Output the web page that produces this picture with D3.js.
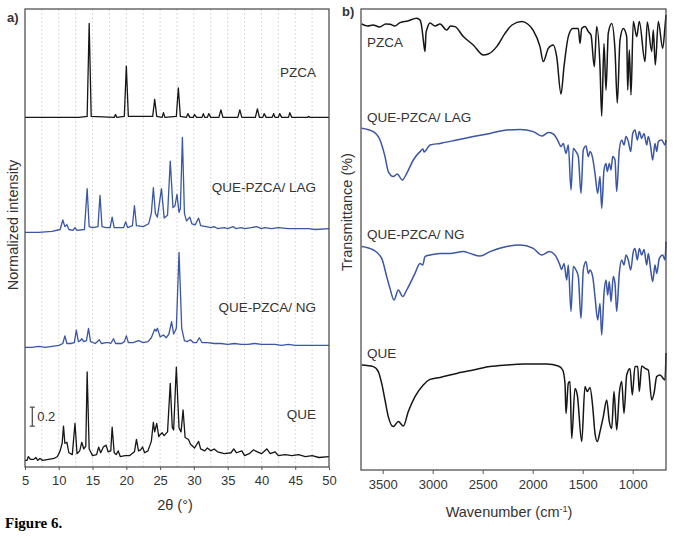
<!DOCTYPE html>
<html>
<head>
<meta charset="utf-8">
<title>Figure 6</title>
<style>
  body { margin: 0; background: #fff; }
  svg text { font-family: Arial, "Liberation Sans", sans-serif; fill: #333; }
  .axis text { font-size: 13px; fill: #333; }
  .axis line { stroke: #555; }
  .axis path { display: none; }
</style>
<script src="https://cdnjs.cloudflare.com/ajax/libs/d3/7.8.5/d3.min.js"></script>
</head>
<body>
<svg id="fig" width="681" height="539"></svg>
<script>
// ---- panel a) XRD, 2theta vs normalized intensity (each trace relative to its own baseline)
const xrdTicks = [5, 10, 15, 20, 25, 30, 35, 40, 45, 50];
const xrdNames = ["QUE", "QUE-PZCA/ NG", "QUE-PZCA/ LAG", "PZCA"];
const xrdOffsets = [0.07, 1.26, 2.47, 3.68];

const xrdQUE = [[5,0],[5.3,0],[5.5,0.04],[5.8,0.01],[6.3,0.01],[6.6,0.03],[6.9,0],[7.2,0.02],[7.6,0],[8.5,0.01],[9.3,0.02],[9.8,0.04],
  [10.2,0.1],[10.5,0.18],[10.7,0.36],[10.9,0.18],[11.2,0.19],[11.5,0.08],[12.0,0.06],[12.4,0.39],[12.7,0.07],[13.1,0.1],[13.4,0.19],
  [13.7,0.12],[14.0,0.15],[14.2,0.93],[14.5,0.12],[15.0,0.05],[15.6,0.06],[15.9,0.14],[16.2,0.08],[16.6,0.14],[17.0,0.16],[17.3,0.09],
  [17.7,0.1],[17.9,0.35],[18.2,0.08],[18.5,0.06],[18.8,0.1],[19.1,0.04],[19.8,0.05],[20.5,0.05],[21.2,0.09],[21.5,0.22],[21.8,0.1],
  [22.1,0.11],[22.4,0.14],[22.7,0.08],[23.2,0.1],[23.7,0.2],[24.0,0.40],[24.2,0.3],[24.5,0.39],[24.8,0.25],[25.0,0.27],[25.3,0.29],
  [25.6,0.26],[26.1,0.3],[26.5,0.81],[26.8,0.35],[27.0,0.32],[27.4,0.98],[27.8,0.34],[28.1,0.3],[28.4,0.53],[28.7,0.24],[29.2,0.22],
  [29.5,0.17],[30.1,0.13],[30.7,0.2],[31.0,0.12],[31.6,0.1],[32.0,0.13],[32.5,0.1],[33.0,0.12],[33.5,0.09],[34.5,0.07],[35.5,0.08],
  [35.9,0.12],[36.3,0.08],[37.1,0.1],[37.5,0.05],[38.2,0.07],[38.8,0.11],[39.4,0.09],[40.0,0.07],[40.8,0.12],[41.3,0.07],[42.0,0.09],
  [42.5,0.05],[43.5,0.06],[44.5,0.05],[45.5,0.06],[46.5,0.04],[47.5,0.05],[48.5,0.03],[50,0.04]];

const xrdNG = [[5,0],[6,0],[7,0.01],[8,0],[9,0.01],[10,0.02],[10.6,0.04],[10.9,0.12],[11.2,0.04],[11.8,0.04],[12.3,0.05],[12.6,0.18],
  [12.9,0.06],[13.2,0.07],[13.4,0.09],[13.7,0.06],[14.1,0.07],[14.4,0.20],[14.7,0.06],[15.4,0.04],[16.0,0.08],[16.3,0.04],[17.0,0.05],
  [17.4,0.05],[17.7,0.04],[18.1,0.09],[18.4,0.04],[19.3,0.04],[19.7,0.06],[20.0,0.12],[20.3,0.05],[21.0,0.05],[21.8,0.07],[22.5,0.05],
  [23.2,0.06],[23.7,0.10],[24.2,0.19],[24.4,0.17],[24.6,0.20],[25.0,0.11],[25.5,0.13],[25.9,0.10],[26.3,0.14],[26.7,0.27],[27.0,0.14],
  [27.4,0.2],[27.8,1.0],[28.2,0.2],[28.6,0.07],[29.0,0.06],[29.5,0.08],[29.9,0.05],[30.4,0.05],[30.8,0.10],[31.2,0.05],[32,0.05],
  [33,0.04],[34,0.04],[35,0.03],[36,0.04],[37,0.03],[38,0.03],[39,0.04],[40,0.03],[41,0.03],[42,0.03],[43,0.02],[44,0.03],[45,0.02],
  [47,0.02],[50,0.02]];

const xrdLAG = [[5,0],[7,0],[9,0.01],[10.2,0.03],[10.6,0.13],[10.9,0.06],[11.2,0.08],[11.5,0.03],[12.1,0.02],[12.4,0.05],[12.7,0.02],
  [13.8,0.03],[14.2,0.46],[14.5,0.06],[15,0.05],[15.8,0.06],[16.1,0.39],[16.4,0.06],[17.0,0.05],[17.6,0.05],[17.9,0.16],[18.2,0.05],
  [19.0,0.05],[19.6,0.05],[19.9,0.11],[20.2,0.05],[20.9,0.07],[21.2,0.28],[21.5,0.07],[22.5,0.06],[23.3,0.09],[23.7,0.2],[24.0,0.47],
  [24.3,0.2],[24.6,0.16],[25.2,0.46],[25.6,0.15],[26.1,0.18],[26.5,0.75],[26.9,0.26],[27.2,0.28],[27.5,0.40],[27.8,0.21],[28.0,0.25],
  [28.3,1.0],[28.6,0.2],[28.9,0.12],[29.4,0.16],[29.7,0.09],[30.2,0.08],[30.7,0.15],[31.0,0.07],[31.8,0.06],[32.5,0.05],[33,0.06],
  [33.5,0.04],[34.5,0.05],[35,0.04],[35.8,0.06],[36.2,0.04],[37,0.05],[37.5,0.04],[38.5,0.05],[39.3,0.06],[40,0.04],[40.5,0.05],
  [41.5,0.04],[42.5,0.05],[44,0.04],[45.5,0.04],[47,0.04],[48,0.03],[50,0.04]];

const xrdPZCA = [[5,0],[13,0],[14.2,0.01],[14.5,0.99],[14.8,0.01],[18.2,0],[18.4,0.03],[18.6,0],[19.7,0.01],[20.0,0.54],[20.3,0.01],
  [23.9,0.01],[24.2,0.19],[24.5,0.01],[25.3,0],[25.5,0.05],[25.7,0],[27.4,0.01],[27.7,0.31],[28.0,0.01],[28.9,0],[29.1,0.04],[29.4,0],
  [29.9,0],[30.1,0.03],[30.4,0],[31.2,0],[31.4,0.04],[31.6,0],[32.0,0],[32.2,0.04],[32.5,0],[33.7,0],[34.0,0.08],[34.3,0],[36.5,0],
  [36.8,0.08],[37.1,0],[39.1,0],[39.4,0.09],[39.7,0],[40.2,0],[40.4,0.04],[40.7,0],[41.6,0],[41.8,0.04],[42.0,0],[42.5,0],[42.7,0.04],
  [43.0,0],[44.0,0],[44.2,0.05],[44.5,0],[46.8,0],[47.0,0.01],[47.2,0],[50,0]];

// ---- panel b) FTIR, wavenumber vs stacked transmittance (arbitrary units)
const ftirTicks = [3500, 3000, 2500, 2000, 1500, 1000];
const ftirNames = ["PZCA", "QUE-PZCA/ LAG", "QUE-PZCA/ NG", "QUE"];

const ftirPZCA = [[3710,223],[3650,222],[3597,222.5],[3530,221.5],[3470,223],[3427,222.9],[3380,222],[3327,223.7],[3250,224.5],
  [3160,225.9],[3127,225],[3110,221.7],[3094,215],[3077,209.2],[3067,218.5],[3054,221],[3027,223.5],[2977,222],[2927,223],[2860,220],
  [2820,222],[2777,221.7],[2694,216.7],[2594,212.5],[2494,207.5],[2444,208],[2360,211.7],[2277,218.3],[2207,222.5],[2110,224.2],
  [2050,223],[1997,220],[1927,211.7],[1894,204.2],[1844,210.8],[1794,212.5],[1760,206.7],[1717,188],[1687,201.7],[1644,216.7],
  [1600,220.8],[1544,220.8],[1527,213.3],[1510,220.8],[1477,221.7],[1444,219.2],[1417,217.5],[1384,201.7],[1360,221.7],[1327,201.7],
  [1310,177],[1287,213.3],[1267,190],[1244,218.5],[1210,223.3],[1177,210],[1154,183.5],[1127,215],[1094,220.8],[1060,216.7],
  [1050,190],[1034,210],[1017,187.5],[994,224.2],[960,216.7],[934,224.2],[877,204.2],[854,224],[810,209.2],[794,220],[774,202.5],
  [744,224.2],[700,210.8],[677,221.7],[667,227.5]];

const ftirLAG = [[3710,170.9],[3594,169.2],[3527,165],[3477,156.7],[3444,149.2],[3394,146.7],[3354,148],[3304,145],[3260,148.3],
  [3194,155],[3127,159.2],[3097,160.5],[3087,159],[3027,162.5],[2927,163.3],[2760,165],[2594,166.7],[2427,168.3],[2260,170],
  [2127,170.3],[1994,169.2],[1910,167],[1844,168.7],[1794,168],[1744,164.2],[1717,161.7],[1694,163.3],[1667,158.3],[1644,162.5],
  [1617,140],[1594,160.8],[1567,159.2],[1544,156.7],[1517,138.3],[1494,160],[1467,162],[1444,156.7],[1427,159.2],[1400,155.8],
  [1377,148.3],[1350,138.3],[1327,146.7],[1310,130.8],[1287,150],[1267,153.3],[1254,149.2],[1234,153.3],[1217,150],[1200,156.7],
  [1177,155],[1160,139.2],[1134,160],[1110,165],[1087,162.5],[1067,166.7],[1044,164.2],[1020,159.2],[1000,168.3],[977,170],
  [954,165],[934,169.2],[910,165.8],[887,168.3],[860,162.5],[844,166.7],[820,161.7],[800,155],[777,163.3],[760,159.2],[744,164.2],
  [710,165],[677,162.5],[667,165]];

const ftirNG = [[3710,111.7],[3594,110],[3510,105.8],[3460,96.7],[3427,90.8],[3387,85],[3344,90],[3300,86.7],[3260,90],[3177,98.3],
  [3127,103.3],[3100,102.5],[3077,106.7],[3027,107.5],[2927,108.3],[2827,108.3],[2694,109.2],[2627,108.3],[2527,107],[2427,109.2],
  [2260,111.7],[2127,112.5],[1994,110.8],[1910,107.5],[1834,109.2],[1777,107.5],[1734,103.3],[1710,100.3],[1687,103.3],[1660,95],
  [1644,102.5],[1617,79.2],[1594,101.7],[1567,100],[1544,96.7],[1517,75.8],[1494,100],[1467,104.2],[1444,98.3],[1427,100],
  [1400,96.7],[1377,86.7],[1350,75],[1327,83.3],[1310,67.5],[1287,88.3],[1267,95],[1250,87.5],[1234,94.2],[1217,84.2],[1194,96.7],
  [1177,93.3],[1160,79.2],[1134,98.3],[1110,105],[1087,102.5],[1067,107.5],[1044,105],[1020,100],[994,109.2],[977,110.8],[954,105],
  [934,110.8],[910,107.5],[887,110.3],[860,102.5],[844,108.3],[820,100],[800,94.2],[777,102.5],[760,98.3],[734,105.8],[700,107.5],
  [677,105],[667,114.2]];

const ftirQUE = [[3710,52.5],[3594,51.7],[3544,49.2],[3510,43.3],[3477,35],[3444,26.7],[3394,21.7],[3344,24.2],[3294,22],[3244,29.2],
  [3177,36.7],[3094,42.5],[3027,45.3],[2927,46.3],[2760,48.3],[2594,50],[2427,51.7],[2260,52.5],[2094,53],[1860,53],[1744,52],
  [1700,50],[1677,43.3],[1667,28.3],[1644,43.3],[1627,44.2],[1610,15.8],[1577,40.8],[1554,37.5],[1510,14.2],[1477,41.7],[1454,39.2],
  [1427,41.3],[1400,31.7],[1377,18.3],[1354,14.2],[1327,19.2],[1294,26.7],[1260,35],[1234,24.2],[1210,20.8],[1187,39.2],[1160,20],
  [1134,38.3],[1110,44.2],[1087,28.3],[1060,47.5],[1027,50.8],[1004,37.5],[977,51.7],[950,51.7],[934,39.2],[910,52],[877,50.8],
  [844,50],[810,35],[787,38.3],[760,46.7],[727,47.5],[677,45],[667,58.5]];

const blue = "#3a56a5", black = "#161616";

const svg = d3.select("#fig");

const xA = d3.scaleLinear().domain([5, 50]).range([25, 329]);
const yA = d3.scaleLinear().domain([0, 4.8]).range([467, 11]);
const xB = d3.scaleLinear().domain([3717, 667]).range([361, 666]);
const yB = d3.scaleLinear().domain([0, 230]).range([470, 10]);

// dotted vertical grid in panel a
svg.append("g").selectAll("line")
  .data(d3.range(7.5, 50, 2.5))
  .join("line")
    .attr("x1", d => xA(d)).attr("x2", d => xA(d))
    .attr("y1", 9).attr("y2", 467)
    .attr("stroke", "#d9d9d9").attr("stroke-dasharray", "2,2");

// XRD traces
const xrdData = [xrdQUE, xrdNG, xrdLAG, xrdPZCA];
const xrdColors = [black, blue, blue, black];
xrdData.forEach((s, i) => {
  const line = d3.line().x(d => xA(d[0])).y(d => yA(d[1] + xrdOffsets[i]));
  svg.append("path").datum(s)
    .attr("d", line)
    .attr("fill", "none")
    .attr("stroke", xrdColors[i])
    .attr("stroke-width", 1.3)
    .attr("stroke-linejoin", "round");
});

// FTIR traces
const ftirData = [ftirPZCA, ftirLAG, ftirNG, ftirQUE];
const ftirColors = [black, blue, blue, black];
ftirData.forEach((s, i) => {
  const line = d3.line().curve(d3.curveMonotoneX).x(d => xB(d[0])).y(d => yB(d[1]));
  svg.append("path").datum(s)
    .attr("d", line)
    .attr("fill", "none")
    .attr("stroke", ftirColors[i])
    .attr("stroke-width", 1.5)
    .attr("stroke-linejoin", "round");
});

// frames
svg.append("rect").attr("x", 25).attr("y", 9).attr("width", 304).attr("height", 458)
  .attr("fill", "none").attr("stroke", "#444").attr("stroke-width", 1.2);
svg.append("rect").attr("x", 361).attr("y", 9).attr("width", 305).attr("height", 461)
  .attr("fill", "none").attr("stroke", "#444").attr("stroke-width", 1.2);

// axes
svg.append("g").attr("class", "axis")
  .attr("transform", "translate(0,467)")
  .call(d3.axisBottom(xA).tickValues(xrdTicks).tickFormat(d3.format("d")).tickSize(3).tickPadding(6));
svg.append("g").attr("class", "axis")
  .attr("transform", "translate(0,470)")
  .call(d3.axisBottom(xB).tickValues(ftirTicks).tickFormat(d3.format("d")).tickSize(4).tickPadding(6));

// trace labels
const xrdLabelY = [419, 312, 192, 77];
xrdNames.forEach((n, i) => {
  svg.append("text").attr("x", 316).attr("y", xrdLabelY[i])
    .attr("text-anchor", "end").style("font-size", "13.5px").text(n);
});
const ftirLabelY = [47, 122, 239, 358];
ftirNames.forEach((n, i) => {
  svg.append("text").attr("x", 367).attr("y", ftirLabelY[i])
    .style("font-size", "13.5px").text(n);
});

// 0.2 scale bar
const bar = svg.append("g").attr("stroke", "#444").attr("stroke-width", 1.2);
const bx = xA(6.08);
bar.append("line").attr("x1", bx).attr("x2", bx).attr("y1", yA(0.43)).attr("y2", yA(0.63));
bar.append("line").attr("x1", bx - 2.5).attr("x2", bx + 2.5).attr("y1", yA(0.43)).attr("y2", yA(0.43));
bar.append("line").attr("x1", bx - 2.5).attr("x2", bx + 2.5).attr("y1", yA(0.63)).attr("y2", yA(0.63));
svg.append("text").attr("x", bx + 5).attr("y", 421).style("font-size", "13px").text("0.2");

// panel letters
svg.append("text").attr("x", 7).attr("y", 22).style("font-size", "13px").style("font-weight", "bold").text("a)");
svg.append("text").attr("x", 342).attr("y", 16).style("font-size", "13px").style("font-weight", "bold").text("b)");

// axis titles
svg.append("text").attr("x", 175).attr("y", 510).attr("text-anchor", "middle")
  .style("font-size", "14.5px").text("2θ (°)");
const wn = svg.append("text").attr("x", 509).attr("y", 517).attr("text-anchor", "middle")
  .style("font-size", "14.5px");
wn.append("tspan").text("Wavenumber (cm");
wn.append("tspan").attr("dy", -5).style("font-size", "9px").text("-1");
wn.append("tspan").attr("dy", 5).text(")");

svg.append("text").attr("transform", "translate(18,225) rotate(-90)").attr("text-anchor", "middle")
  .style("font-size", "14.5px").text("Normalized intensity");
svg.append("text").attr("transform", "translate(352,212) rotate(-90)").attr("text-anchor", "middle")
  .style("font-size", "14.5px").text("Transmittance (%)");

// caption
svg.append("text").attr("x", 5).attr("y", 528)
  .style("font-family", "'Liberation Serif', 'Times New Roman', serif")
  .style("font-size", "15px").style("font-weight", "bold").style("fill", "#000")
  .text("Figure 6.");
</script>
</body>
</html>
